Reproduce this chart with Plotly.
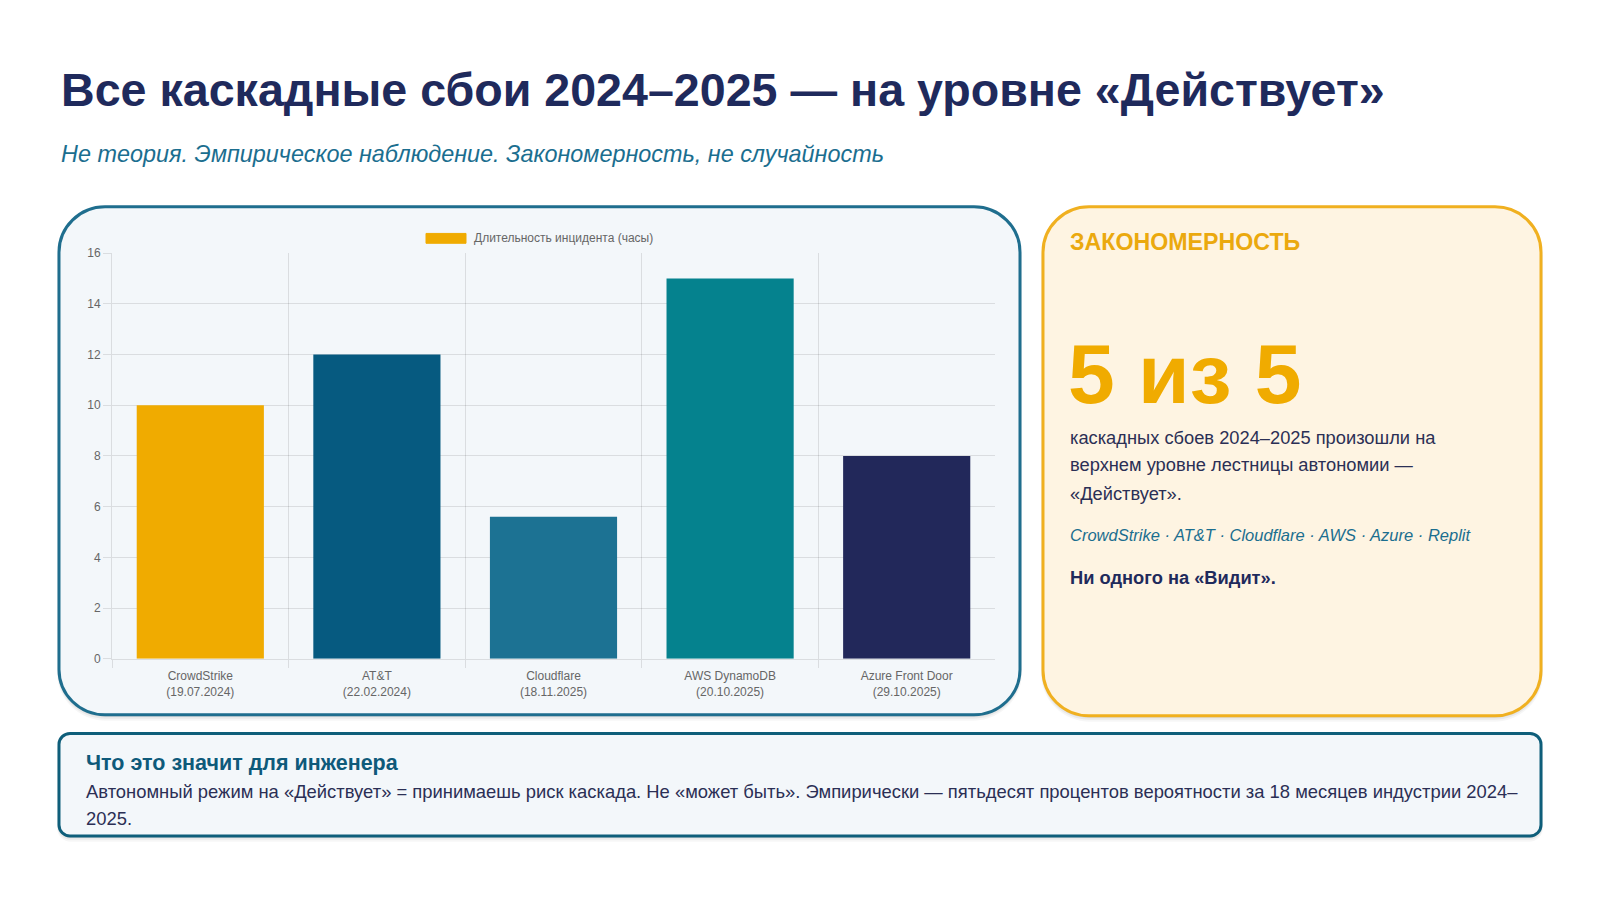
import plotly.graph_objects as go

# ---------------- data ----------------
incidents = ["CrowdStrike", "AT&T", "Cloudflare", "AWS DynamoDB", "Azure Front Door"]
dates = ["19.07.2024", "22.02.2024", "18.11.2025", "20.10.2025", "29.10.2025"]
hours = [10, 12, 5.6, 15, 8]
bar_colors = ["#F0AB00", "#065A80", "#1C7293", "#05828E", "#22285A"]
series_name = "Длительность инцидента (часы)"
y_ticks = [0, 2, 4, 6, 8, 10, 12, 14, 16]

W, H = 1600, 900
FONT = "Liberation Sans, Arial, Helvetica, sans-serif"


def px(x):
    return x / W


def py(y):
    return 1 - y / H


def rrect(x0, y0, x1, y1, r):
    k = 0.5523 * r

    def p(x, y):
        return f"{px(x):.5f},{py(y):.5f}"

    return (
        f"M {p(x0 + r, y0)} L {p(x1 - r, y0)} "
        f"C {p(x1 - r + k, y0)} {p(x1, y0 + r - k)} {p(x1, y0 + r)} "
        f"L {p(x1, y1 - r)} "
        f"C {p(x1, y1 - r + k)} {p(x1 - r + k, y1)} {p(x1 - r, y1)} "
        f"L {p(x0 + r, y1)} "
        f"C {p(x0 + r - k, y1)} {p(x0, y1 - r + k)} {p(x0, y1 - r)} "
        f"L {p(x0, y0 + r)} "
        f"C {p(x0, y0 + r - k)} {p(x0 + r - k, y0)} {p(x0 + r, y0)} Z"
    )


shapes = []


def card(x0, y0, x1, y1, r, fill, border, bw):
    # soft shadow
    for i, a in [(6, 0.035), (4, 0.05), (2, 0.07)]:
        shapes.append(dict(type="path", xref="paper", yref="paper", layer="below",
                           path=rrect(x0 - i / 3, y0 + i / 2, x1 + i / 3, y1 + i, r + i / 2),
                           fillcolor=f"rgba(0,0,0,{a})", line=dict(width=0)))
    shapes.append(dict(type="path", xref="paper", yref="paper", layer="below",
                       path=rrect(x0, y0, x1, y1, r), fillcolor=fill,
                       line=dict(color=border, width=bw)))


card(59, 203, 1020, 719, 46, "#F3F7FA", "#1F6E8E", 3)
card(1043, 203, 1541, 720, 46, "#FEF4E2", "#F0B020", 3)
card(59, 738, 1541, 842, 11, "#F3F7FA", "#0E5E7A", 3)

# legend (chart.js style box)
shapes.append(dict(type="rect", xref="paper", yref="paper", layer="above",
                   x0=px(426), x1=px(466), y0=py(240), y1=py(230),
                   fillcolor=bar_colors[0], line=dict(color=bar_colors[0], width=1)))

tick_text = [f"{n}<br>({d})" for n, d in zip(incidents, dates)]

fig = go.Figure()
fig.add_trace(go.Bar(
    x=incidents, y=hours, name=series_name,
    marker=dict(color=bar_colors, line=dict(width=0)),
    showlegend=False, hoverinfo="x+y",
))

annotations = []


def text(x, y, s, size, color, bold=False, italic=False, anchor="left"):
    if bold:
        s = f"<b>{s}</b>"
    if italic:
        s = f"<i>{s}</i>"
    annotations.append(dict(xref="paper", yref="paper", x=px(x), y=py(y), text=s,
                            showarrow=False, xanchor=anchor, yanchor="middle",
                            font=dict(family=FONT, size=size, color=color)))


text(59, 84, "Все каскадные сбои 2024–2025 — на уровне «Действует»", 46.6, "#1F2A5C", bold=True)
text(59, 149, "Не теория. Эмпирическое наблюдение. Закономерность, не случайность", 23.4, "#1B6E8F", italic=True)

text(472, 235, series_name, 12, "#666666")

text(1068, 239, "ЗАКОНОМЕРНОСТЬ", 23.2, "#EBA90E", bold=True)
text(1066, 373, "5 из 5", 84, "#F0AB00", bold=True)
text(1068, 437, "каскадных сбоев 2024–2025 произошли на", 18.3, "#2B2F55")
text(1068, 465, "верхнем уровне лестницы автономии —", 18.3, "#2B2F55")
text(1068, 494, "«Действует».", 18.3, "#2B2F55")
text(1068, 536, "CrowdStrike · AT&T · Cloudflare · AWS · Azure · Replit", 16.5, "#1B6E8F", italic=True)
text(1068, 580, "Ни одного на «Видит».", 18.3, "#1F2A5C", bold=True)

text(84, 768, "Что это значит для инженера", 21.5, "#0E5A7A", bold=True)
text(84, 797, "Автономный режим на «Действует» = принимаешь риск каскада. Не «может быть». "
              "Эмпирически — пятьдесят процентов вероятности за 18 месяцев индустрии 2024–",
     18.4, "#2B2F55")
text(84, 824, "2025.", 18.4, "#2B2F55")

grid = "rgba(0,0,0,0.1)"
fig.update_layout(
    width=W, height=H,
    margin=dict(l=0, r=0, t=0, b=0),
    paper_bgcolor="white",
    plot_bgcolor="rgba(0,0,0,0)",
    bargap=0.28,
    shapes=shapes,
    annotations=annotations,
    font=dict(family=FONT, size=12, color="#666666"),
    xaxis=dict(
        domain=[px(112), px(995)],
        tickmode="array", tickvals=incidents, ticktext=tick_text,
        tickson="boundaries", ticks="outside", ticklen=8, tickcolor=grid,
        ticklabelstandoff=6,
        showgrid=True, gridcolor=grid, gridwidth=1,
        showline=True, linecolor=grid, linewidth=1,
        tickfont=dict(family=FONT, size=12, color="#666666"),
        fixedrange=True,
    ),
    yaxis=dict(
        domain=[py(662), py(250)],
        range=[0, 16], tickmode="array", tickvals=y_ticks,
        ticks="outside", ticklen=8, tickcolor=grid,
        showgrid=True, gridcolor=grid, gridwidth=1,
        showline=True, linecolor=grid, linewidth=1,
        zeroline=False,
        tickfont=dict(family=FONT, size=12, color="#666666"),
        fixedrange=True,
    ),
)

fig.write_html("out.html", config={"displayModeBar": False},
               post_script="document.body.style.margin='0';document.body.style.overflow='hidden';")
